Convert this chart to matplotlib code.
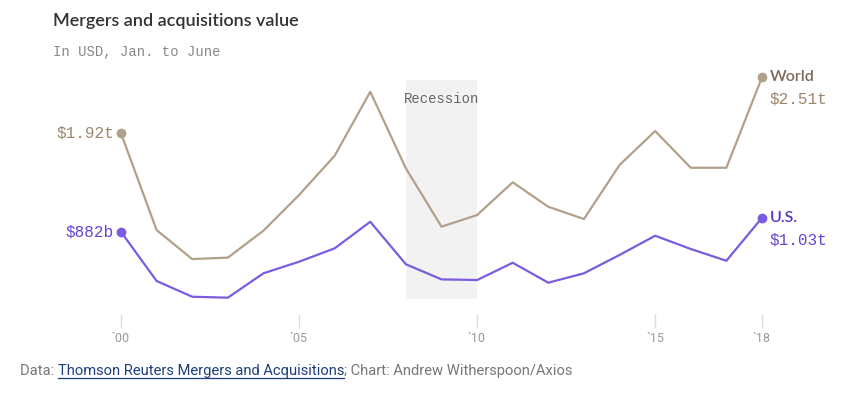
import matplotlib
matplotlib.use("Agg")
import matplotlib.pyplot as plt
from matplotlib.lines import Line2D

# values in trillions USD, Jan. to June
years = list(range(2000, 2019))
world = [1.92, 0.90, 0.595, 0.61, 0.894, 1.27, 1.684, 2.358, 1.551, 0.936,
         1.059, 1.404, 1.146, 1.017, 1.586, 1.944, 1.557, 1.557, 2.51]
us = [0.882, 0.364, 0.198, 0.188, 0.445, 0.567, 0.708, 0.988, 0.540, 0.381,
      0.374, 0.556, 0.346, 0.445, 0.638, 0.841, 0.701, 0.577, 1.03]
tick_years = [2000, 2005, 2010, 2015, 2018]
tick_labels = ["`00", "`05", "`10", "`15", "`18"]
recession = (2008, 2010)

world_c = "#b1a08a"
us_c = "#7b5ce0"
mono = ["Liberation Mono", "DejaVu Sans Mono"]

fig = plt.figure(figsize=(8.55, 3.94), dpi=100)
ax = fig.add_axes([0, 0, 1, 1])
ax.set_xlim(1996.602, 2020.612)
ax.set_ylim(-0.827, 3.325)
ax.axis("off")

# recession band
ax.axvspan(recession[0], recession[1], ymin=(0.171 + 0.827) / 4.152,
           ymax=(2.48 + 0.827) / 4.152, color="#f2f2f2", lw=0, zorder=0)
ax.text(sum(recession) / 2, 2.28, "Recession", family=mono, fontsize=10,
        color="#666666", ha="center", va="center")

ax.plot(years, world, color=world_c, lw=1.6, zorder=3)
ax.plot(years, us, color=us_c, lw=1.6, zorder=3)
ax.plot([years[0], years[-1]], [world[0], world[-1]], "o", color=world_c, ms=6, zorder=4)
ax.plot([years[0], years[-1]], [us[0], us[-1]], "o", color=us_c, ms=6, zorder=4)

# start labels
ax.text(years[0] - 0.2, world[0], "$%.2ft" % world[0], family=mono, fontsize=11.5,
        color="#9b8669", ha="right", va="center")
ax.text(years[0] - 0.2, us[0], "$%db" % round(us[0] * 1000), family=mono, fontsize=11.5,
        color="#6644d4", ha="right", va="center")

# end labels
ax.text(years[-1] + 0.22, world[-1], "World", family="Lato", fontsize=11.5,
        fontweight="semibold", color="#7b6b58", ha="left", va="center")
ax.text(years[-1] + 0.22, world[-1] - 0.23, "$%.2ft" % world[-1], family=mono,
        fontsize=11.5, color="#9b8669", ha="left", va="center")
ax.text(years[-1] + 0.22, us[-1], "U.S.", family="Lato", fontsize=11.5,
        fontweight="semibold", color="#5a33c5", ha="left", va="center")
ax.text(years[-1] + 0.22, us[-1] - 0.23, "$%.2ft" % us[-1], family=mono,
        fontsize=11.5, color="#6644d4", ha="left", va="center")

# x axis ticks
ax.vlines(tick_years, -0.132, 0.016, color="#dddddd", lw=1)
for yr, lab in zip(tick_years, tick_labels):
    ax.text(yr, -0.24, lab, family="Roboto", fontsize=9, color="#999999",
            ha="center", va="center")

# title block
fig.text(53 / 855, 1 - 21 / 394, "Mergers and acquisitions value", family="Lato",
         fontsize=13, fontweight="semibold", color="#333333", ha="left", va="center")
fig.text(53 / 855, 1 - 52 / 394, "In USD, Jan. to June", family=mono, fontsize=10,
         color="#888888", ha="left", va="center")

# footer with underlined source
fig.canvas.draw()
renderer = fig.canvas.get_renderer()
parts = [("Data: ", "#777777", False),
         ("Thomson Reuters Mergers and Acquisitions", "#1f3f7a", True),
         ("; Chart: Andrew Witherspoon/Axios", "#777777", False)]
x_px = 20
y_px = 394 - 375
for txt, col, underline in parts:
    t = fig.text(x_px / 855, y_px / 394, txt, family="Roboto", fontsize=10.6,
                 color=col, ha="left", va="baseline")
    bb = t.get_window_extent(renderer)
    if underline:
        fig.add_artist(Line2D([bb.x0 / 855, bb.x1 / 855],
                              [(y_px - 2.5) / 394] * 2, color=col, lw=0.9))
    x_px = bb.x1

fig.savefig("out.png", dpi=100)
